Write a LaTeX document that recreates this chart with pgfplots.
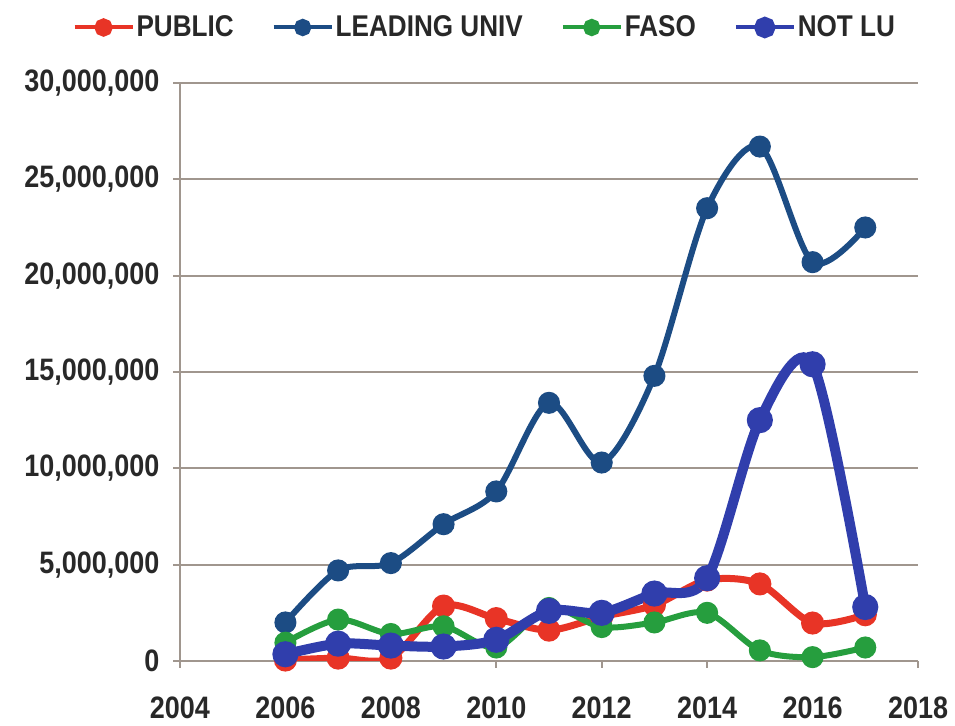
\documentclass[border=0pt]{standalone}
\usepackage{fontspec}
\setmainfont{Liberation Sans}
\newfontfamily\cf{Liberation Sans}[FakeStretch=0.87]
\usepackage{pgfplots}
\pgfplotsset{compat=1.18}
\definecolor{pubred}{RGB}{232,52,38}
\definecolor{leadblue}{RGB}{28,76,132}
\definecolor{fasogreen}{RGB}{38,158,62}
\definecolor{notlublue}{RGB}{48,62,172}
\definecolor{gridgray}{RGB}{160,150,142}
\definecolor{txt}{RGB}{40,40,40}

\begin{document}
\begin{tikzpicture}
  \begin{axis}[
    name=ax,
    scale only axis,
    width=369pt, height=289pt,
    xmin=2004, xmax=2018, ymin=0, ymax=30000000,
    xtick={2004,2006,...,2018},
    ytick={0,5000000,...,30000000},
    scaled y ticks=false,
    axis x line*=bottom, axis y line*=left,
    axis line style={draw=gridgray, line width=1pt, -},
    tick style={draw=gridgray, line width=1pt},
    tick align=outside,
    major tick length=3.5pt,
    ymajorgrids, grid style={draw=gridgray, line width=1pt},
    /pgf/number format/assume math mode=true,
    xticklabel style={font=\cf\fontsize{15.5}{17}\selectfont\bfseries,
      text=txt, yshift=-11pt, /pgf/number format/1000 sep={}},
    yticklabel style={font=\cf\fontsize{15.5}{17}\selectfont\bfseries,
      text=txt, xshift=-3.3pt, /pgf/number format/.cd, fixed, 1000 sep={,}},
    xtick pos=bottom, ytick pos=left,
    legend style={at={(axis description cs:0.413,1.096)}, anchor=center,
      draw=none, fill=none, legend columns=4,
      font=\cf\fontsize{15}{17}\selectfont\bfseries, text=txt,
      nodes={inner xsep=1pt},
      /tikz/every even column/.append style={column sep=18pt}},
    legend cell align=left,
    legend image code/.code={
      \draw[#1, line width=2pt, mark=none] (0pt,0pt) -- (29pt,0pt);
      \fill[#1] (14.5pt,0pt) circle (2.8pt);
    },
    every axis plot/.append style={smooth, tension=0.5},
  ]
  \addplot[pubred, line width=3.5pt, mark=*, mark size=4pt] coordinates {
    (2006,50000)(2007,150000)(2008,150000)(2009,2850000)(2010,2200000)
    (2011,1600000)(2012,2300000)(2013,2900000)(2014,4200000)(2015,4000000)
    (2016,1970000)(2017,2400000)
  };
  \addlegendentry{PUBLIC}
  \addplot[leadblue, line width=3pt, mark=*, mark size=4pt] coordinates {
    (2006,2000000)(2007,4700000)(2008,5080000)(2009,7100000)(2010,8800000)
    (2011,13400000)(2012,10300000)(2013,14800000)(2014,23500000)(2015,26700000)
    (2016,20700000)(2017,22500000)
  };
  \addlegendentry{LEADING UNIV}
  \addplot[fasogreen, line width=3pt, mark=*, mark size=4pt] coordinates {
    (2006,950000)(2007,2150000)(2008,1400000)(2009,1800000)(2010,700000)
    (2011,2750000)(2012,1760000)(2013,2000000)(2014,2500000)(2015,550000)
    (2016,200000)(2017,700000)
  };
  \addlegendentry{FASO}
  \addplot[notlublue, line width=5pt, mark=*, mark size=4pt] coordinates {
    (2006,350000)(2007,900000)(2008,800000)(2009,750000)(2010,1100000)
    (2011,2600000)(2012,2500000)(2013,3500000)(2014,4300000)(2015,12500000)
    (2016,15400000)(2017,2800000)
  };
  \addlegendentry{NOT LU}
  \end{axis}
  \path ([xshift=-90pt,yshift=-31pt]ax.south west)
    rectangle ([xshift=18.5pt,yshift=41.5pt]ax.north east);
\end{tikzpicture}
\end{document}
